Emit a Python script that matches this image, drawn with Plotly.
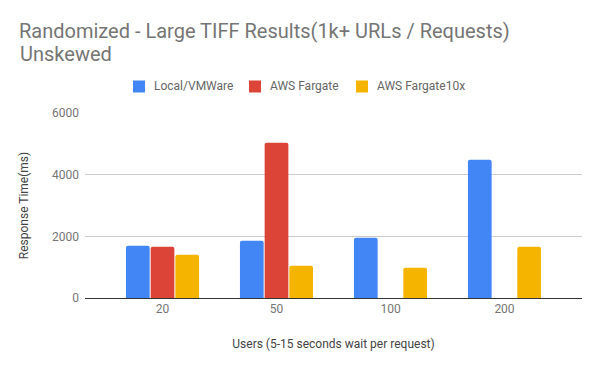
import plotly.graph_objects as go

categories = ["20", "50", "100", "200"]
local_vmware = [1697, 1859, 1957, 4486]
aws_fargate = [1664, 5038, None, None]
aws_fargate10x = [1405, 1049, 984, 1664]

series_names = ["Local/VMWare", "AWS Fargate", "AWS Fargate10x"]
series_values = [local_vmware, aws_fargate, aws_fargate10x]
series_colors = ["#4285F4", "#DB4437", "#F4B400"]

# the page body has an 8px default margin: size the figure to fill the rest
OFF = 8
W, H = 600 - OFF, 371 - OFF
L, R, T, B = 85 - OFF, 18, 113 - OFF, 73
PW, PH = W - L - R, H - T - B


def px_x(px):
    """screen pixel x -> paper coordinate"""
    return (px - OFF - L) / PW


def px_y(py):
    """screen pixel y -> paper coordinate"""
    return (H - B - (py - OFF)) / PH


fig = go.Figure()
for name, vals, color in zip(series_names, series_values, series_colors):
    fig.add_trace(go.Bar(x=categories, y=vals, name=name, showlegend=False,
                         marker=dict(color=color, line=dict(width=0), cornerradius=2)))

# legend drawn as swatches + labels
legend_sw_x = [133, 249, 356]
shapes, annotations = [], []
for name, color, sx in zip(series_names, series_colors, legend_sw_x):
    shapes.append(dict(type="rect", xref="paper", yref="paper",
                       x0=px_x(sx), x1=px_x(sx + 12), y0=px_y(92.5), y1=px_y(80.5),
                       fillcolor=color, line=dict(width=0), layer="above"))
    annotations.append(dict(text=name, xref="paper", yref="paper",
                            x=px_x(sx + 19), y=px_y(86.5), xanchor="left", yanchor="middle",
                            showarrow=False, font=dict(family="Roboto", size=12, color="#666666")))

annotations.append(dict(text="Unskewed", xref="paper", yref="paper",
                        x=px_x(18), y=px_y(54.5), xanchor="left", yanchor="middle",
                        showarrow=False, font=dict(family="Roboto", size=20, color="#757575")))

fig.update_layout(
    width=W, height=H,
    paper_bgcolor="white", plot_bgcolor="white",
    font=dict(family="Roboto", size=12, color="#444444"),
    margin=dict(l=L, r=R, t=T, b=B, autoexpand=False),
    barmode="group", bargap=0.35, bargroupgap=0.04,
    showlegend=False,
    title=dict(text="Randomized - Large TIFF Results(1k+ URLs / Requests)",
               x=(19 - OFF) / W, xref="container", xanchor="left",
               y=1 - (31.2 - OFF) / H, yref="container", yanchor="middle",
               font=dict(family="Roboto", size=20, color="#757575")),
    shapes=shapes,
    annotations=annotations,
    xaxis=dict(type="category", range=[-0.68, 3.68], showgrid=False, automargin=False,
               showline=True, linecolor="#333333", linewidth=1,
               ticks="", tickfont=dict(color="#757575", size=12), ticklabelstandoff=0,
               title=dict(text="Users (5-15 seconds wait per request)",
                          font=dict(color="#444444", size=12), standoff=24)),
    yaxis=dict(range=[0, 6000], tickvals=[0, 2000, 4000, 6000], automargin=False,
               showgrid=True, gridcolor="#cccccc", zeroline=False,
               ticks="", tickfont=dict(color="#757575", size=12), ticklabelstandoff=5,
               title=dict(text="Response Time(ms)", font=dict(color="#444444", size=12), standoff=20)),
)

fig.write_html("out.html")
